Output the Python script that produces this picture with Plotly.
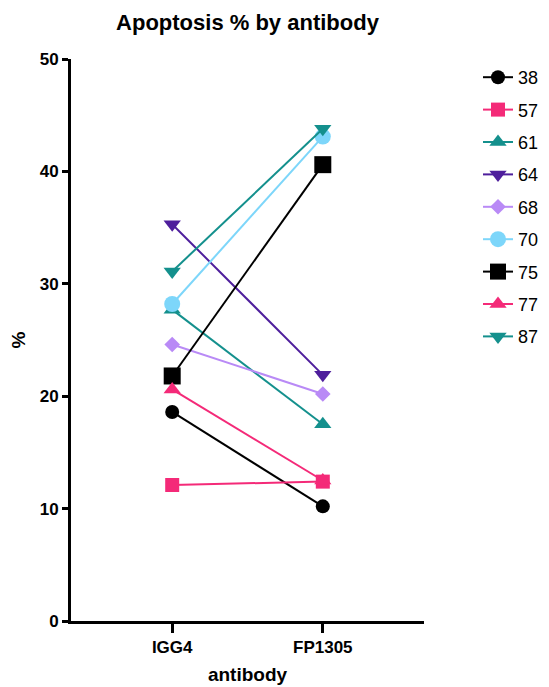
import plotly.graph_objects as go

antibodies = ["IGG4", "FP1305"]
donors = ["38", "57", "61", "64", "68", "70", "75", "77", "87"]
values = {
    "38": [18.6, 10.2],
    "57": [12.1, 12.4],
    "61": [27.7, 17.5],
    "64": [35.3, 21.9],
    "68": [24.6, 20.2],
    "70": [28.2, 43.1],
    "75": [21.8, 40.6],
    "77": [20.6, 12.5],
    "87": [31.1, 43.8],
}
colors = {
    "38": "#000000", "57": "#F42A78", "61": "#14908D", "64": "#4E1E9C",
    "68": "#B98AF6", "70": "#7DD6FA", "75": "#000000", "77": "#F42A78", "87": "#14908D",
}
symbols = {
    "38": "circle", "57": "square", "61": "triangle-up", "64": "triangle-down",
    "68": "diamond", "70": "circle", "75": "square", "77": "triangle-up", "87": "triangle-down",
}
sizes = {
    "38": 14, "57": 14, "61": 15, "64": 15, "68": 12,
    "70": 16, "75": 17, "77": 15, "87": 15,
}

FONT = "Arial, Liberation Sans, Helvetica, sans-serif"
W, H = 541, 679  # page body adds an 8px offset

fig = go.Figure()
for d in donors:
    fig.add_trace(go.Scatter(
        x=antibodies, y=values[d], name=d, legendgroup=d,
        mode="lines+markers",
        line=dict(color=colors[d], width=2),
        marker=dict(color=colors[d], symbol=symbols[d], size=sizes[d], line=dict(width=0)),
        cliponaxis=False,
    ))

fig.update_layout(
    width=W, height=H,
    margin=dict(l=63, r=125, t=51, b=66, autoexpand=False),
    paper_bgcolor="white", plot_bgcolor="white",
    title=dict(text="<b>Apoptosis % by antibody</b>", x=239.5 / W, xanchor="center",
               y=1 - 14 / H, yanchor="middle", font=dict(family=FONT, size=22, color="black")),
    font=dict(family=FONT, color="black"),
    legend=dict(x=1.153, xanchor="left", y=1.0, yanchor="top", tracegroupgap=6,
                font=dict(family=FONT, size=18, color="black"), bgcolor="rgba(0,0,0,0)"),
    showlegend=True,
)
fig.update_xaxes(
    type="category", range=[-0.672, 1.672], automargin=False,
    showline=True, linecolor="black", linewidth=3,
    ticks="outside", ticklen=9, tickwidth=3, tickcolor="black",
    tickfont=dict(family=FONT, size=17, color="black", weight="bold"),
    title=dict(text="<b>antibody</b>", font=dict(family=FONT, size=19, color="black"), standoff=12),
    showgrid=False, zeroline=False,
)
fig.update_yaxes(
    range=[0, 50], dtick=10, tick0=0, automargin=False,
    showline=True, linecolor="black", linewidth=3,
    ticks="outside", ticklen=6, tickwidth=3, tickcolor="black",
    tickfont=dict(family=FONT, size=17, color="black", weight="bold"),
    title=dict(text="<b>%</b>", font=dict(family=FONT, size=19, color="black"), standoff=14),
    showgrid=False, zeroline=False,
)

fig.write_html("out.html")
